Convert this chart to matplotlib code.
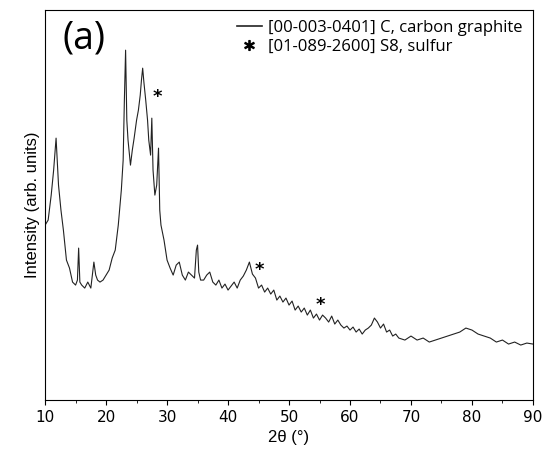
import matplotlib
matplotlib.use("Agg")
import matplotlib.pyplot as plt
from matplotlib.lines import Line2D

two_theta = [10,10.5,11,11.4,11.8,12.2,12.6,13,13.5,14,14.5,15,15.3,15.5,15.7,16,16.5,17,17.5,18,18.3,18.6,19,19.5,20,20.5,21,21.5,22,22.5,22.8,23.0,23.2,23.4,23.6,24,24.3,24.6,25,25.3,25.6,25.8,26,26.2,26.5,26.8,27,27.3,27.5,27.7,28,28.3,28.6,28.8,29,29.5,30,30.5,31,31.5,32,32.5,33,33.5,34,34.5,34.8,35,35.2,35.5,36,36.5,37,37.5,38,38.5,39,39.5,40,40.5,41,41.5,42,42.5,43,43.5,44,44.5,45,45.5,46,46.5,47,47.5,48,48.5,49,49.5,50,50.5,51,51.5,52,52.5,53,53.5,54,54.5,55,55.5,56,56.5,57,57.5,58,58.5,59,59.5,60,60.5,61,61.5,62,62.5,63,63.5,64,64.5,65,65.5,66,66.5,67,67.5,68,69,70,71,72,73,74,75,76,77,78,79,80,81,82,83,84,85,86,87,88,89,90]
intensity = [175,180,205,230,262,215,190,170,140,132,118,115,120,152,118,115,112,118,112,138,125,120,118,120,125,130,142,150,175,210,240,300,350,280,260,235,250,262,280,290,305,320,332,318,300,280,260,245,282,230,205,215,252,190,175,160,140,132,125,135,138,125,120,128,125,122,150,155,128,120,120,125,128,118,115,120,112,116,110,114,118,112,120,124,130,138,126,122,112,115,108,112,106,110,100,104,98,102,95,99,90,94,88,92,85,90,82,86,80,85,82,78,84,76,80,75,72,74,70,73,68,71,66,70,72,75,82,78,72,76,68,70,64,66,62,60,64,60,62,58,60,62,64,66,68,72,70,66,64,62,58,60,56,58,55,57,56]

star_x = [28.4, 45.2, 55.1]
star_y = [303, 130, 95]

fig = plt.figure(figsize=(5.5, 4.63), dpi=100)
ax = fig.add_axes([0.082, 0.136, 0.887, 0.842])
ax.plot(two_theta, intensity, color="#222222", lw=0.8)
for sx, sy in zip(star_x, star_y):
    ax.text(sx, sy, "*", ha="center", va="center", fontsize=13, fontweight="bold")
ax.set_xlim(10, 90)
ax.set_ylim(0, 390)
ax.set_xticks(range(10, 91, 10))
ax.set_xticks(range(15, 90, 10), minor=True)
ax.set_yticks([])
ax.tick_params(axis="x", labelsize=11, direction="out")
ax.set_xlabel("2θ (°)", fontsize=12, family="Liberation Sans")
ax.set_ylabel("Intensity (arb. units)", fontsize=12, family="Liberation Sans")
ax.text(0.035, 0.975, "(a)", transform=ax.transAxes, fontsize=27, va="top", family="Open Sans")
handles = [Line2D([], [], color="#222222", lw=1.2),
           Line2D([], [], color="black", marker="$*$", ls="none", markersize=7)]
ax.legend(handles, ["[00-003-0401] C, carbon graphite", "[01-089-2600] S8, sulfur"],
          loc="upper right", frameon=False, prop={"family": "Open Sans", "size": 12},
          handlelength=1.5, borderaxespad=0.2, labelspacing=0.15, handletextpad=0.4)
fig.savefig("out.png", dpi=100)
